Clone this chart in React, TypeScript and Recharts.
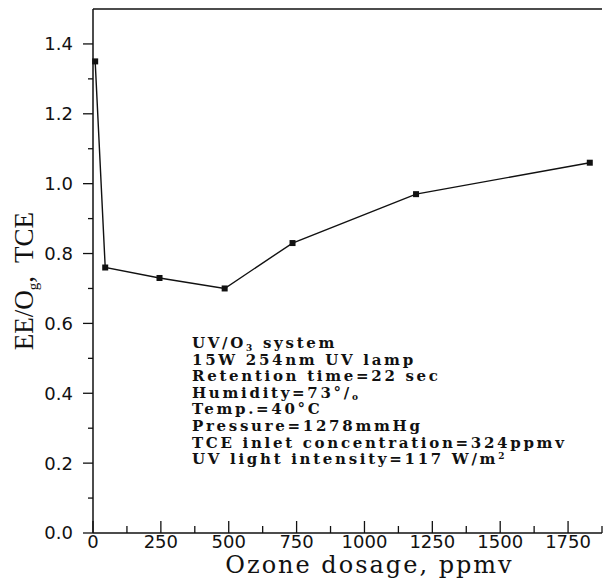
import React from 'react';
import { LineChart, Line, XAxis, YAxis, ReferenceLine, Label } from 'recharts';

// values
const ozoneDosage = [8, 45, 245, 485, 735, 1190, 1830];
const eeTce = [1.35, 0.76, 0.73, 0.7, 0.83, 0.97, 1.06];

const xTicks = [0, 125, 250, 375, 500, 625, 750, 875, 1000, 1125, 1250, 1375, 1500, 1625, 1750, 1875];
const xMajor = [0, 250, 500, 750, 1000, 1250, 1500, 1750];
const yTicks = [0, 0.1, 0.2, 0.3, 0.4, 0.5, 0.6, 0.7, 0.8, 0.9, 1.0, 1.1, 1.2, 1.3, 1.4, 1.5];
const yMajor = [0, 0.2, 0.4, 0.6, 0.8, 1.0, 1.2, 1.4];

const data = ozoneDosage.map((dose, i) => ({ dose, ee: eeTce[i] }));

const INK = '#111';
const tickFont = '"DejaVu Sans", sans-serif';
const serif = '"DejaVu Serif", serif';

const XTick = ({ x, y, payload }: any) => {
  const major = xMajor.includes(payload.value);
  return (
    <g>
      <line x1={x} x2={x} y1={y} y2={y - (major ? 12 : 7)} stroke={INK} strokeWidth={1.3} />
      {major && (
        <text x={x} y={y + 15} textAnchor="middle" fontFamily={tickFont} fontSize={18} fill={INK}>
          {payload.value}
        </text>
      )}
    </g>
  );
};

const YTick = ({ x, y, payload }: any) => {
  const major = yMajor.includes(payload.value);
  if (payload.value === 1.5) return null;
  return (
    <g>
      <line x1={x - (major ? 10 : 5)} x2={x} y1={y} y2={y} stroke={INK} strokeWidth={1.3} />
      {major && (
        <text x={x - 20} y={y} dy="0.36em" textAnchor="end" fontFamily={tickFont} fontSize={18} fill={INK}>
          {payload.value.toFixed(1)}
        </text>
      )}
    </g>
  );
};

const SquareDot = ({ cx, cy }: any) => (
  <rect x={cx - 3} y={cy - 3} width={6} height={6} fill={INK} />
);

const XTitle = ({ viewBox }: any) => {
  const { x, y, width } = viewBox;
  return (
    <text x={x + width / 2 + 22} y={y + 40} textAnchor="middle" fontFamily={serif} fontSize={24}
      letterSpacing={2} fill={INK}>
      Ozone dosage, ppmv
    </text>
  );
};

const YTitle = ({ viewBox }: any) => {
  const { x, y, height } = viewBox;
  const cx = x + 33;
  const cy = y + height / 2 + 10;
  return (
    <text x={cx} y={cy} transform={`rotate(-90, ${cx}, ${cy})`} textAnchor="middle"
      fontFamily='"Liberation Serif", serif' fontSize={27} fill={INK} style={{ whiteSpace: 'pre' }}>
      EE/O
      <tspan dy={5} fontSize={15}>g</tspan>
      <tspan dy={-5}>,  TCE</tspan>
    </text>
  );
};

const noteStyle = {
  fontFamily: serif, fontSize: 15, fontWeight: 'bold', fill: INK, letterSpacing: 2.7,
} as const;
const noteX = 192;
const noteY = (i: number) => 348 + i * 16.6;

export default function App() {
  return (
    <div style={{ position: 'absolute', left: 0, top: 0, width: 604, height: 582, background: '#fff' }}>
      <LineChart width={604} height={582} data={data} margin={{ top: 9, right: 2, bottom: 0, left: 0 }}>
        <XAxis type="number" dataKey="dose" domain={[0, 1875]} ticks={xTicks} interval={0}
          tick={<XTick />} tickLine={false} tickSize={0} tickMargin={0} height={49}
          axisLine={{ stroke: INK, strokeWidth: 1.5 }}>
          <Label content={<XTitle />} />
        </XAxis>
        <YAxis type="number" domain={[0, 1.5]} ticks={yTicks} interval={0}
          tick={<YTick />} tickLine={false} tickSize={0} tickMargin={0} width={93}
          axisLine={{ stroke: INK, strokeWidth: 1.5 }}>
          <Label content={<YTitle />} />
        </YAxis>
        <ReferenceLine y={1.5} stroke={INK} strokeWidth={1.5} />
        <Line type="linear" dataKey="ee" stroke={INK} strokeWidth={1.4}
          dot={<SquareDot />} activeDot={false} isAnimationActive={false} />
      </LineChart>
      <svg width={604} height={582} style={{ position: 'absolute', left: 0, top: 0, pointerEvents: 'none' }}>
        <g style={{ whiteSpace: 'pre' }}>
          <text x={noteX} y={noteY(0)} {...noteStyle}>
            UV/O<tspan dy={3} fontSize={9}>3</tspan><tspan dy={-3}> system</tspan>
          </text>
          <text x={noteX} y={noteY(1)} {...noteStyle}>15W 254nm UV lamp</text>
          <text x={noteX} y={noteY(2)} {...noteStyle}>Retention time=22 sec</text>
          <text x={noteX} y={noteY(3)} {...noteStyle}>
            Humidity=73°/<tspan dy={2} fontSize={9}>o</tspan>
          </text>
          <text x={noteX} y={noteY(4)} {...noteStyle}>Temp.=40°C</text>
          <text x={noteX} y={noteY(5)} {...noteStyle}>Pressure=1278mmHg</text>
          <text x={noteX} y={noteY(6)} {...noteStyle}>TCE inlet concentration=324ppmv</text>
          <text x={noteX} y={noteY(7)} {...noteStyle}>
            UV light intensity=117 W/m<tspan dy={-5} fontSize={9}>2</tspan>
          </text>
        </g>
      </svg>
    </div>
  );
}
